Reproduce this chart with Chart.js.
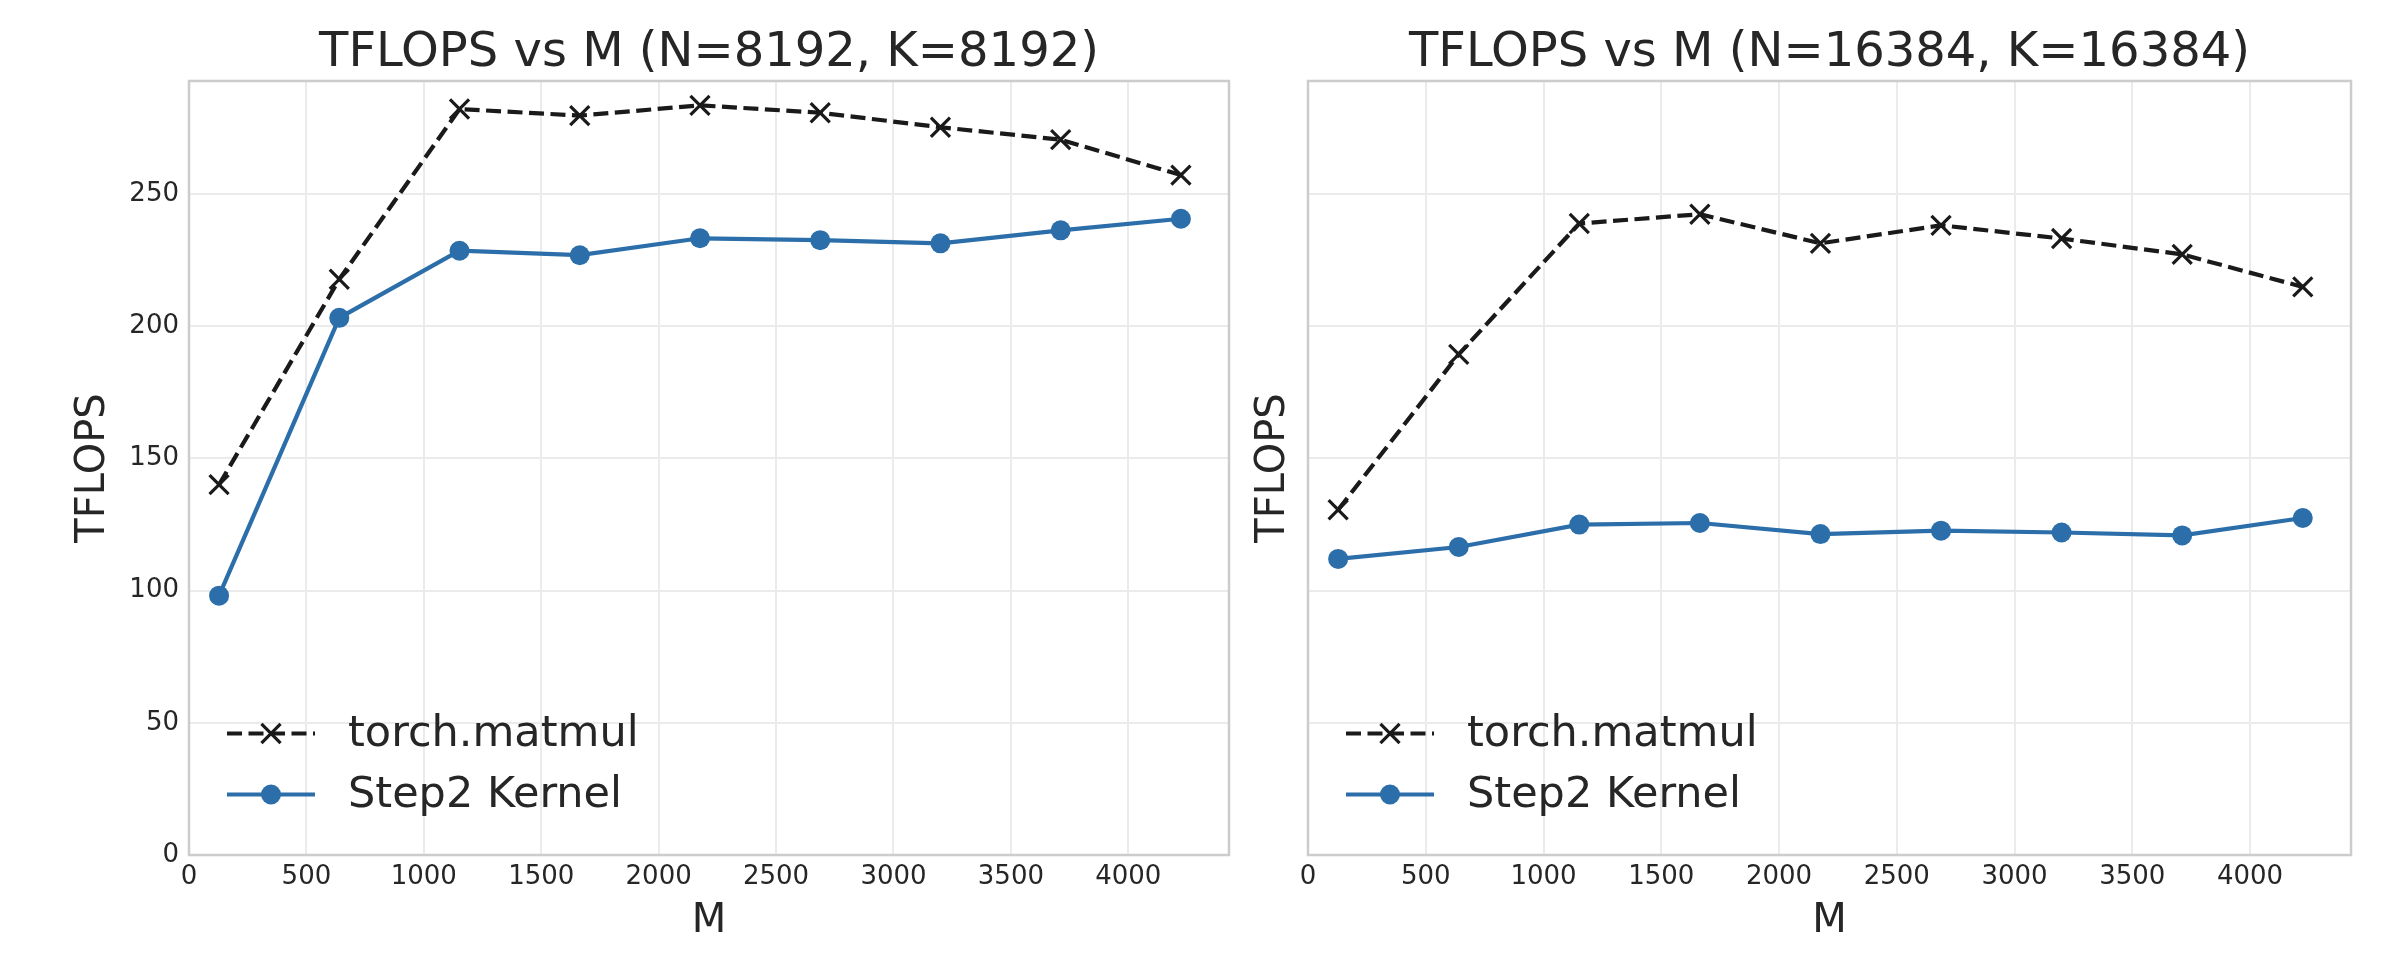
<!DOCTYPE html>
<html><head><meta charset="utf-8">
<script src="https://cdn.jsdelivr.net/npm/chart.js@4.4.0/dist/chart.umd.min.js"></script>
<style>
html,body{margin:0;padding:0;background:#fff;}
#wrap{position:relative;width:2406px;height:966px;overflow:hidden;background:#fff;}
canvas{position:absolute;top:0;}
#c1{left:0;} #c2{left:1240px;}
</style></head><body>
<div id="wrap"><canvas id="c1" width="1240" height="966"></canvas><canvas id="c2" width="1166" height="966"></canvas></div>
<script>
// ---- data ----
const mValues = [128, 640, 1152, 1664, 2176, 2688, 3200, 3712, 4224];
const torchN8192 = [140.1, 217.8, 282.2, 279.7, 283.6, 280.8, 275.3, 270.6, 257.2];
const step2N8192 = [98.1, 203.2, 228.6, 226.9, 233.3, 232.6, 231.4, 236.3, 240.7];
const torchN16384 = [130.6, 189.4, 238.9, 242.4, 231.4, 238.2, 233.2, 227.2, 214.9];
const step2N16384 = [112.0, 116.5, 125.0, 125.6, 121.4, 122.7, 122.0, 120.9, 127.5];
const chartTitles = ['TFLOPS vs M (N=8192, K=8192)', 'TFLOPS vs M (N=16384, K=16384)'];
const seriesLabels = ['torch.matmul', 'Step2 Kernel'];
const xTickValues = [0, 500, 1000, 1500, 2000, 2500, 3000, 3500, 4000];
const yTickValues = [0, 50, 100, 150, 200, 250];
const xLimits = [0, 4428.8];
const yLimits = [0, 292.8];
const xLabel = 'M';
const yLabel = 'TFLOPS';

// ---- styles ----
const FONT = "'DejaVu Sans', sans-serif";
const TEXT = '#262626';
const BLUE = '#2b6ea9';
const BLACK = '#1a1a1a';
const GRID = '#ebebeb';
const SPINE = '#cccccc';

function pts(ys) { return mValues.map((x, i) => ({x: x, y: ys[i]})); }

const framePlugin = {
  id: 'frame',
  beforeDatasetsDraw(chart) {
    const {ctx, chartArea: a} = chart;
    ctx.save();
    ctx.strokeStyle = SPINE; ctx.lineWidth = 2.5;
    ctx.strokeRect(a.left, a.top, a.right - a.left, a.bottom - a.top);
    ctx.restore();
  },
  afterDraw(chart, args, opts) {
    const {ctx, chartArea: a} = chart;
    ctx.save();
    // title
    ctx.fillStyle = TEXT;
    ctx.font = '48px ' + FONT;
    ctx.textAlign = 'center'; ctx.textBaseline = 'middle';
    ctx.fillText(opts.title, (a.left + a.right) / 2, 54);
    // legend
    chart.data.datasets.forEach((ds, i) => {
      const y = 733.5 + i * 61;
      const x0 = a.left + 38;
      ctx.save();
      ctx.strokeStyle = ds.borderColor; ctx.lineWidth = ds.borderWidth;
      ctx.setLineDash(ds.borderDash || []);
      ctx.beginPath(); ctx.moveTo(x0, y); ctx.lineTo(x0 + 88, y); ctx.stroke();
      ctx.setLineDash([]);
      const cx = x0 + 44;
      if (ds.pointStyle === 'crossRot') {
        const r = ds.pointRadius * Math.SQRT1_2;
        ctx.lineWidth = ds.pointBorderWidth; ctx.strokeStyle = ds.pointBorderColor;
        ctx.beginPath();
        ctx.moveTo(cx - r, y - r); ctx.lineTo(cx + r, y + r);
        ctx.moveTo(cx - r, y + r); ctx.lineTo(cx + r, y - r);
        ctx.stroke();
      } else {
        ctx.fillStyle = ds.pointBackgroundColor;
        ctx.beginPath(); ctx.arc(cx, y, ds.pointRadius, 0, Math.PI * 2); ctx.fill();
      }
      ctx.restore();
      ctx.fillStyle = TEXT;
      ctx.font = '43px ' + FONT;
      ctx.textAlign = 'left'; ctx.textBaseline = 'middle';
      ctx.fillText(ds.label, x0 + 121, y + 1);
    });
    ctx.restore();
  }
};

function makeChart(id, title, torch, step2, yAxisWidth, showYTicks, yTitlePad, padRight) {
  return new Chart(document.getElementById(id), {
    type: 'scatter',
    data: {
      datasets: [
        {label: seriesLabels[0], data: pts(torch), showLine: true,
         borderColor: BLACK, borderWidth: 4.2, borderDash: [15, 6.5],
         pointStyle: 'crossRot', pointRadius: 13.5, pointBorderWidth: 3.2,
         pointBorderColor: BLACK, pointBackgroundColor: BLACK, pointHoverRadius: 13.5},
        {label: seriesLabels[1], data: pts(step2), showLine: true,
         borderColor: BLUE, borderWidth: 4.2,
         pointStyle: 'circle', pointRadius: 10, pointBorderWidth: 0,
         pointBorderColor: BLUE, pointBackgroundColor: BLUE, pointHoverRadius: 10}
      ]
    },
    options: {
      responsive: false, animation: false, devicePixelRatio: 1,
      layout: {autoPadding: false, padding: {top: 81, left: 0, right: padRight, bottom: 0}},
      plugins: {legend: {display: false}, tooltip: {enabled: false}, frame: {title: title}},
      scales: {
        x: {
          type: 'linear', min: xLimits[0], max: xLimits[1],
          afterFit: s => { s.height = 111; s.paddingLeft = 0; s.paddingRight = 0; },
          afterBuildTicks: s => { s.ticks = xTickValues.map(v => ({value: v})); },
          ticks: {font: {size: 26, family: FONT}, color: TEXT, padding: 7, maxRotation: 0, autoSkip: false,
                  callback: v => String(v)},
          grid: {color: GRID, lineWidth: 2, drawTicks: false},
          border: {display: false},
          title: {display: true, text: xLabel, color: TEXT, font: {size: 40, family: FONT}, padding: {top: 0, bottom: 20}}
        },
        y: {
          type: 'linear', min: yLimits[0], max: yLimits[1],
          afterFit: s => { s.width = yAxisWidth; s.paddingTop = 0; s.paddingBottom = 0; },
          afterBuildTicks: s => { s.ticks = yTickValues.map(v => ({value: v})); },
          ticks: {display: showYTicks, font: {size: 26, family: FONT}, color: TEXT, padding: 10,
                  callback: v => String(v)},
          grid: {color: GRID, lineWidth: 2, drawTicks: false},
          border: {display: false},
          title: {display: true, text: yLabel, color: TEXT, font: {size: 40, family: FONT}, padding: {top: yTitlePad, bottom: 0}}
        }
      }
    },
    plugins: [framePlugin]
  });
}

makeChart('c1', chartTitles[0], torchN8192, step2N8192, 189, true, 70, 11);
makeChart('c2', chartTitles[1], torchN16384, step2N16384, 68, false, 10, 55);
</script>
</body></html>
